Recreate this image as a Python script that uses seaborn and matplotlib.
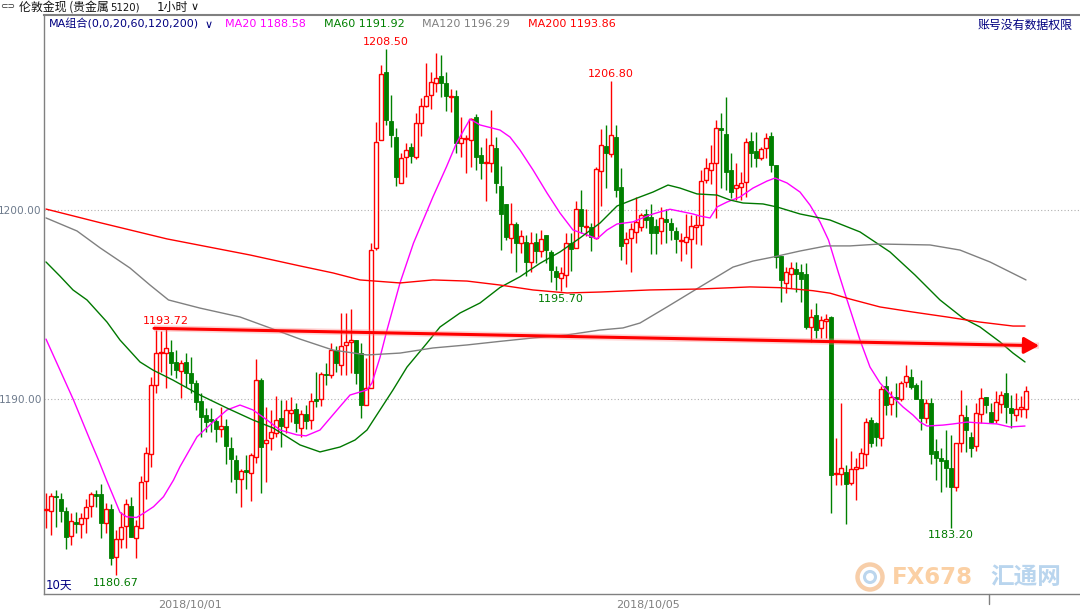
import matplotlib
matplotlib.use("Agg")
import matplotlib.pyplot as plt
import matplotlib.transforms as mtransforms
from matplotlib.patches import Circle
import numpy as np
import pandas as pd
import seaborn as sns

# ---------------- data (1-hour candles, London gold) ----------------
opens = [1184.13, 1184.09, 1184.87, 1184.69, 1184.09, 1182.75, 1183.50, 1183.40, 1183.69, 1184.34,
         1184.95, 1184.96, 1183.46, 1184.16, 1181.62, 1182.57, 1183.28, 1184.34, 1182.63, 1183.16,
         1185.68, 1187.07, 1190.74, 1192.42, 1192.45, 1192.50, 1191.98, 1191.50, 1191.98, 1191.40,
         1190.83, 1189.90, 1189.16, 1188.93, 1188.85, 1188.40, 1188.57, 1187.41, 1186.77, 1185.75,
         1186.25, 1186.10, 1186.92, 1191.01, 1187.66, 1187.92, 1188.22, 1188.98, 1188.54, 1189.28,
         1189.45, 1188.45, 1189.20, 1188.90, 1189.98, 1189.98, 1191.32, 1191.27, 1192.59, 1191.82,
         1192.84, 1193.00, 1193.12, 1192.41, 1189.68, 1190.56, 1197.97, 1203.70, 1207.32, 1204.72,
         1203.88, 1201.45, 1202.78, 1203.35, 1202.82, 1204.60, 1205.50, 1206.08, 1206.70, 1207.09,
         1206.74, 1205.96, 1206.03, 1203.53, 1203.75, 1203.70, 1204.90, 1202.90, 1202.47, 1202.50,
         1203.26, 1201.27, 1200.32, 1198.50, 1199.26, 1198.27, 1198.33, 1197.27, 1198.33, 1197.85,
         1198.68, 1197.80, 1196.79, 1196.39, 1196.56, 1198.24, 1197.97, 1200.04, 1199.12, 1199.12,
         1198.50, 1202.08, 1203.39, 1202.96, 1203.85, 1201.24, 1198.27, 1198.50, 1198.85, 1199.08,
         1199.79, 1199.65, 1199.16, 1198.90, 1199.51, 1199.33, 1198.90, 1198.38, 1198.33, 1198.45,
         1199.12, 1199.21, 1201.59, 1202.12, 1202.47, 1204.32, 1204.02, 1202.12, 1201.15, 1201.24,
         1201.50, 1203.67, 1203.14, 1202.73, 1203.26, 1203.92, 1202.38, 1197.57, 1196.16, 1196.62,
         1196.86, 1196.74, 1196.61, 1193.80, 1194.42, 1193.74, 1194.15, 1194.32, 1186.03, 1186.03,
         1186.16, 1185.54, 1186.28, 1186.33, 1187.09, 1188.89, 1188.71, 1187.92, 1190.69, 1189.74,
         1190.12, 1189.98, 1190.92, 1191.18, 1190.74, 1189.98, 1188.98, 1189.77, 1187.27, 1186.86,
         1186.77, 1186.33, 1185.33, 1187.69, 1189.03, 1187.97, 1187.51, 1189.21, 1190.12, 1189.33,
         1188.89, 1189.74, 1190.30, 1189.51, 1189.15, 1189.45, 1189.45]

highs = [1185.01, 1185.01, 1185.20, 1185.04, 1184.30, 1183.95, 1184.04, 1183.95, 1184.69, 1185.10,
         1185.20, 1185.50, 1184.48, 1184.44, 1183.07, 1184.04, 1184.69, 1184.80, 1183.60, 1185.90,
         1187.48, 1191.18, 1193.65, 1193.60, 1193.72, 1193.12, 1192.60, 1192.07, 1192.45, 1192.20,
         1191.00, 1190.30, 1189.50, 1189.50, 1188.98, 1189.60, 1188.93, 1188.00, 1187.04, 1186.28,
         1187.04, 1187.13, 1192.10, 1191.10, 1189.56, 1189.42, 1190.16, 1189.95, 1189.95, 1190.13,
         1189.80, 1189.40, 1189.68, 1190.30, 1191.45, 1191.45, 1191.90, 1192.98, 1192.80, 1194.53,
         1194.53, 1194.74, 1193.12, 1192.94, 1192.15, 1198.23, 1204.67, 1207.67, 1208.50, 1206.08,
         1204.32, 1203.00, 1203.53, 1203.56, 1205.15, 1205.91, 1207.80, 1207.32, 1208.30, 1208.20,
         1207.32, 1206.39, 1206.35, 1204.90, 1203.97, 1204.85, 1205.10, 1203.35, 1203.80, 1205.29,
         1203.88, 1202.33, 1200.32, 1200.35, 1199.38, 1198.94, 1198.68, 1198.85, 1198.77, 1198.94,
         1198.68, 1197.88, 1197.04, 1197.00, 1198.77, 1198.77, 1200.50, 1201.06, 1200.04, 1199.30,
         1202.30, 1204.27, 1204.50, 1206.80, 1204.50, 1202.20, 1198.85, 1199.30, 1200.70, 1199.86,
         1200.04, 1200.32, 1199.51, 1200.18, 1200.04, 1199.56, 1199.08, 1198.77, 1199.79, 1199.74,
         1199.74, 1202.12, 1202.73, 1203.44, 1204.76, 1205.15, 1205.99, 1203.00, 1202.47, 1202.03,
         1203.80, 1204.14, 1204.14, 1203.32, 1204.09, 1204.14, 1202.38, 1197.57, 1197.00, 1197.27,
         1197.27, 1197.14, 1197.18, 1194.74, 1195.06, 1194.39, 1194.50, 1194.39, 1187.92, 1189.77,
         1186.51, 1187.27, 1186.86, 1187.39, 1188.98, 1189.03, 1188.80, 1190.69, 1191.22, 1190.44,
         1190.86, 1190.97, 1191.80, 1191.57, 1190.83, 1191.00, 1189.98, 1190.03, 1187.87, 1187.39,
         1188.36, 1188.10, 1187.69, 1190.48, 1189.68, 1188.27, 1189.80, 1190.56, 1190.12, 1189.77,
         1190.44, 1190.44, 1191.39, 1190.21, 1190.30, 1190.16, 1190.69]

lows = [1183.16, 1182.80, 1183.24, 1183.51, 1182.04, 1182.27, 1182.90, 1182.63, 1182.90, 1183.78,
        1184.30, 1182.63, 1182.93, 1181.22, 1180.67, 1182.10, 1182.10, 1182.68, 1181.57, 1183.16,
        1184.69, 1186.42, 1190.34, 1191.45, 1190.57, 1191.27, 1191.10, 1190.04, 1190.65, 1190.34,
        1189.42, 1187.97, 1188.27, 1188.27, 1187.74, 1187.97, 1186.56, 1185.63, 1185.05, 1184.30,
        1185.22, 1184.62, 1186.63, 1185.05, 1185.63, 1187.30, 1188.00, 1187.48, 1188.19, 1188.80,
        1188.27, 1188.00, 1188.40, 1188.40, 1189.60, 1189.63, 1190.74, 1191.09, 1191.45, 1191.27,
        1191.27, 1191.36, 1190.80, 1188.97, 1189.68, 1190.56, 1197.88, 1203.70, 1204.50, 1203.35,
        1201.27, 1201.45, 1201.76, 1202.50, 1202.68, 1203.90, 1205.47, 1205.33, 1206.26, 1206.00,
        1205.24, 1205.20, 1203.00, 1202.82, 1201.94, 1202.27, 1202.12, 1201.62, 1200.50, 1202.03,
        1200.88, 1197.88, 1198.41, 1197.74, 1196.72, 1197.74, 1196.51, 1196.74, 1197.21, 1197.53,
        1197.18, 1196.21, 1195.77, 1195.70, 1195.94, 1196.79, 1197.97, 1198.77, 1198.62, 1197.85,
        1198.45, 1200.20, 1201.15, 1202.82, 1200.70, 1197.35, 1197.14, 1196.74, 1198.27, 1198.90,
        1199.03, 1197.67, 1197.67, 1198.20, 1198.24, 1198.41, 1197.71, 1197.32, 1197.67, 1196.91,
        1198.20, 1198.15, 1201.41, 1201.38, 1199.56, 1201.15, 1201.06, 1200.62, 1200.53, 1200.53,
        1200.70, 1202.29, 1202.29, 1202.64, 1202.73, 1202.03, 1196.91, 1195.15, 1195.59, 1195.86,
        1195.68, 1195.15, 1193.70, 1193.00, 1193.21, 1193.21, 1193.21, 1183.95, 1185.45, 1185.45,
        1183.39, 1185.45, 1184.66, 1186.33, 1186.45, 1187.48, 1187.51, 1187.51, 1189.15, 1189.15,
        1189.03, 1189.91, 1190.62, 1190.51, 1189.98, 1188.36, 1188.71, 1186.56, 1185.71, 1185.10,
        1185.33, 1183.20, 1185.15, 1187.21, 1187.21, 1186.91, 1187.27, 1188.71, 1189.24, 1188.71,
        1188.75, 1189.24, 1188.75, 1188.45, 1188.85, 1189.07, 1188.98]

closes = [1184.20, 1184.87, 1184.80, 1184.09, 1182.68, 1183.56, 1183.40, 1183.69, 1184.30, 1184.96,
          1184.87, 1183.42, 1184.16, 1181.57, 1182.57, 1183.25, 1184.45, 1182.72, 1183.28, 1185.63,
          1187.13, 1190.74, 1192.42, 1192.50, 1192.68, 1191.92, 1191.54, 1191.92, 1191.40, 1190.87,
          1189.86, 1189.03, 1188.80, 1188.82, 1188.40, 1188.57, 1187.52, 1186.81, 1185.75, 1186.21,
          1186.16, 1187.04, 1191.01, 1187.48, 1187.83, 1188.27, 1188.89, 1188.57, 1189.42, 1189.42,
          1188.71, 1189.20, 1188.85, 1189.90, 1189.90, 1191.32, 1191.25, 1192.59, 1191.92, 1192.80,
          1193.03, 1193.12, 1191.36, 1189.68, 1190.56, 1197.88, 1203.60, 1207.18, 1204.76, 1203.97,
          1201.73, 1202.73, 1203.17, 1202.86, 1204.60, 1205.50, 1206.03, 1206.79, 1206.97, 1206.74,
          1206.03, 1206.03, 1203.53, 1203.80, 1203.80, 1204.80, 1202.82, 1202.47, 1202.52, 1203.44,
          1201.41, 1199.79, 1198.55, 1199.26, 1198.24, 1198.63, 1197.27, 1198.27, 1197.85, 1198.45,
          1197.88, 1196.83, 1196.47, 1196.65, 1198.27, 1197.92, 1200.04, 1199.16, 1199.16, 1198.59,
          1202.15, 1203.44, 1203.00, 1203.97, 1201.06, 1198.10, 1198.45, 1198.98, 1199.38, 1199.74,
          1199.47, 1198.80, 1198.77, 1199.56, 1199.38, 1198.94, 1198.45, 1198.42, 1198.55, 1199.16,
          1199.19, 1201.55, 1202.20, 1202.50, 1204.32, 1204.23, 1202.03, 1200.97, 1201.32, 1201.41,
          1203.62, 1203.03, 1202.73, 1203.21, 1203.79, 1202.38, 1197.53, 1196.30, 1196.74, 1196.91,
          1196.62, 1196.33, 1193.79, 1194.34, 1193.67, 1194.18, 1194.22, 1185.98, 1186.07, 1186.33,
          1185.50, 1186.28, 1186.38, 1187.16, 1188.80, 1187.69, 1187.97, 1190.51, 1189.68, 1190.12,
          1189.98, 1190.86, 1191.22, 1190.62, 1189.98, 1188.98, 1189.80, 1187.09, 1186.86, 1186.74,
          1186.33, 1185.33, 1187.65, 1189.15, 1188.36, 1187.39, 1189.28, 1190.04, 1189.68, 1188.80,
          1189.86, 1190.21, 1189.56, 1189.24, 1189.45, 1189.56, 1190.44]

# moving-average lines (bar position, price)
ma20_x = [0, 5.5, 8.8, 10.5, 12.1, 13.5, 14.8, 16.1, 18.1, 19.5, 21.5, 23.5, 25.5, 26.8, 30.2, 33.4,
          36.2, 38.8, 41.4, 44.2, 46.8, 50.2, 52.0, 54.8, 58.8, 60.8, 62.8, 64.2, 65.2, 66.8, 68.2,
          70.8, 73.5, 77.4, 80.1, 82.1, 84.8, 86.8, 90.8, 92.8, 94.8, 97.4, 100.2, 102.8, 105.4,
          108.2, 110.2, 112.2, 114.2, 117.4, 120.8, 122.8, 124.8, 127.4, 129.4, 130.8, 132.8, 134.2,
          136.2, 138.8, 141.4, 144.2, 145.8, 148.2, 150.8, 152.8, 154.8, 156.5, 158.5, 160.1, 162.8,
          164.8, 166.8, 169.4, 171.4, 173.4, 174.8, 176.2, 179.4, 181.4, 184.2, 186.8, 190.2, 192.8,
          195.8]
ma20_y = [1193.17, 1189.95, 1187.83, 1186.77, 1185.71, 1184.83, 1184.00, 1183.77, 1183.73, 1183.95,
          1184.30, 1184.83, 1185.71, 1186.42, 1188.00, 1188.78, 1189.42, 1189.68, 1189.42, 1188.89,
          1188.36, 1188.10, 1188.05, 1188.36, 1189.60, 1190.21, 1190.37, 1190.48, 1190.85, 1192.20,
          1193.65, 1196.14, 1198.25, 1200.70, 1202.29, 1203.54, 1204.81, 1204.50, 1204.23, 1203.86,
          1203.17, 1202.12, 1200.90, 1199.84, 1198.94, 1198.68, 1198.47, 1198.94, 1199.26, 1199.37,
          1199.74, 1199.90, 1200.04, 1199.90, 1199.79, 1199.68, 1199.58, 1200.16, 1200.42, 1200.69,
          1201.16, 1201.53, 1201.69, 1201.43, 1200.95, 1200.26, 1199.37, 1198.41, 1196.67, 1195.33,
          1193.12, 1191.69, 1190.85, 1190.10, 1189.58, 1189.15, 1188.78, 1188.57, 1188.62, 1188.68,
          1188.78, 1188.73, 1188.68, 1188.52, 1188.57]

ma60_x = [0, 2.8, 5.4, 8.2, 12.2, 14.8, 18.8, 21.4, 25.4, 30.8, 36.2, 41.4, 45.4, 50.8, 54.8, 58.8,
          61.8, 64.2, 66.8, 69.4, 72.2, 76.2, 78.8, 82.8, 86.8, 90.8, 94.8, 98.8, 102.8, 106.8, 110.8,
          114.2, 118.2, 121.4, 124.4, 126.8, 130.2, 134.2, 136.8, 139.4, 143.4, 146.2, 150.8, 156.8,
          162.8, 168.8, 173.8, 178.8, 183.4, 186.8, 190.8, 193.4, 195.8]
ma60_y = [1197.25, 1196.50, 1195.77, 1195.24, 1194.07, 1193.12, 1191.96, 1191.53, 1191.00, 1190.21,
          1189.52, 1188.89, 1188.47, 1187.57, 1187.20, 1187.46, 1187.83, 1188.36, 1189.42, 1190.48,
          1191.69, 1192.96, 1193.81, 1194.55, 1195.08, 1195.90, 1196.47, 1197.18, 1197.78, 1198.52,
          1199.31, 1200.21, 1200.63, 1200.95, 1201.32, 1201.16, 1200.85, 1200.79, 1200.53, 1200.37,
          1200.32, 1200.16, 1199.79, 1199.47, 1198.84, 1197.78, 1196.56, 1195.24, 1194.28, 1193.81,
          1193.02, 1192.43, 1191.96]

ma120_x = [0, 6.2, 10.8, 16.8, 20.8, 24.5, 30.8, 38.8, 44.8, 50.8, 57.4, 64.2, 70.8, 77.4, 84.2, 90.8,
           97.4, 104.2, 110.8, 115.4, 118.8, 124.2, 130.8, 137.4, 141.4, 145.4, 150.8, 156.1, 160.8,
           166.8, 176.8, 182.8, 188.8, 196.0]
ma120_y = [1199.58, 1198.89, 1198.00, 1196.93, 1196.03, 1195.24, 1194.81, 1194.34, 1193.76, 1193.17,
           1192.59, 1192.33, 1192.43, 1192.70, 1192.86, 1193.05, 1193.23, 1193.39, 1193.65, 1193.76,
           1194.02, 1194.87, 1195.93, 1196.98, 1197.30, 1197.51, 1197.83, 1198.10, 1198.10, 1198.20,
           1198.15, 1197.88, 1197.25, 1196.30]

ma200_x = [0, 10.8, 24.2, 40.8, 50.8, 57.4, 62.8, 70.8, 77.4, 84.2, 90.8, 97.4, 104.2, 110.8, 120.8,
           130.8, 140.8, 146.8, 153.4, 156.8, 160.8, 166.8, 173.4, 180.2, 186.8, 193.4, 195.8]
ma200_y = [1200.05, 1199.33, 1198.47, 1197.62, 1197.04, 1196.67, 1196.30, 1196.14, 1196.30, 1196.24,
           1196.03, 1195.77, 1195.61, 1195.66, 1195.77, 1195.82, 1195.93, 1195.89, 1195.73, 1195.60,
           1195.29, 1194.87, 1194.60, 1194.34, 1194.07, 1193.86, 1193.86]

ma_names = ["MA20", "MA60", "MA120", "MA200"]
ma_last = [1188.58, 1191.92, 1196.29, 1193.86]

# trend arrow (from the 1193.72 high)
arrow_x = [21.6, 198.6]
arrow_y = [1193.74, 1192.82]

high_marks = [68, 113, 24]
low_marks = [14, 103, 181]

date_pos = [28.8, 120.4]
date_labels = ["2018/10/01", "2018/10/05"]

# ---------------- drawing ----------------
sns.set_theme(style="white")
plt.rcParams['font.family'] = ['DejaVu Sans', 'Noto Sans CJK SC']
CJK = ['Noto Sans CJK SC', 'DejaVu Sans']

W, H = 1080, 611
fig = plt.figure(figsize=(W / 100, H / 100), dpi=100)
fig.patch.set_facecolor('white')
ax = fig.add_axes([44 / W, (H - 594) / H, (W - 44) / W, (594 - 15) / H])
ax.set_facecolor('white')

RED = '#ff0000'
GREEN = '#008000'

df = pd.DataFrame({'open': opens, 'high': highs, 'low': lows, 'close': closes})
df['x'] = np.arange(len(df))
df['up'] = df['close'] >= df['open']
df['bot'] = df[['open', 'close']].min(axis=1)
df['h'] = (df['close'] - df['open']).abs()

ax.vlines(df['x'], df['low'], df['high'], colors=np.where(df['up'], RED, GREEN),
          lw=1.0, zorder=3)
up = df[df['up']]
dn = df[~df['up']]
ax.bar(up['x'], up['h'], bottom=up['bot'], width=0.68, facecolor='white',
       edgecolor=RED, linewidth=1.0, zorder=4)
ax.bar(dn['x'], dn['h'], bottom=dn['bot'], width=0.72, facecolor=GREEN,
       edgecolor=GREEN, linewidth=0.6, zorder=4)

ma_colors = ['#ff00ff', '#007800', '#808080', '#ff0000']
for xs, ys, col in [(ma20_x, ma20_y, ma_colors[0]), (ma60_x, ma60_y, ma_colors[1]),
                    (ma120_x, ma120_y, ma_colors[2]), (ma200_x, ma200_y, ma_colors[3])]:
    sns.lineplot(x=xs, y=ys, ax=ax, color=col, lw=1.0, sort=False, estimator=None,
                 legend=False, zorder=5)

# trend arrow
ax.plot(arrow_x, arrow_y, color='#ff8080', lw=4.5, alpha=0.35, zorder=6,
        solid_capstyle='butt')
ax.annotate('', xy=(arrow_x[1], arrow_y[1]), xytext=(arrow_x[0], arrow_y[0]),
            arrowprops=dict(arrowstyle='-|>,head_length=0.9,head_width=0.5',
                            color=RED, lw=2.2, shrinkA=0, shrinkB=0, mutation_scale=10),
            zorder=7)

# high / low price labels
for i in high_marks:
    ax.annotate(f"{highs[i]:.2f}", xy=(i, highs[i]), xytext=(0, 2),
                textcoords='offset points', ha='center', va='bottom',
                color=RED, fontsize=8, zorder=8)
for i in low_marks:
    ax.annotate(f"{lows[i]:.2f}", xy=(i, lows[i]), xytext=(0, -2),
                textcoords='offset points', ha='center', va='top',
                color='#007a00', fontsize=8, zorder=8)

# axes styling
ax.set_xlim(-0.4, 206.8)
ax.set_ylim(1179.683, 1210.317)
ax.set_yticks([1190, 1200])
ax.set_yticklabels([f"{v:.2f}" for v in [1190, 1200]])
ax.set_xticks(date_pos)
ax.set_xticklabels(date_labels)
ax.tick_params(axis='y', length=0, pad=1.5, labelsize=7.6, labelcolor='#6d7a8c')
ax.tick_params(axis='x', length=0, pad=4, labelsize=8, labelcolor='#808080')
ax.grid(False)
ax.yaxis.grid(True, color='#b0b0b0', linestyle=(0, (1, 2)), lw=0.8)
ax.set_axisbelow(True)
for side in ['left', 'bottom', 'top']:
    ax.spines[side].set_visible(True)
    ax.spines[side].set_color('#808080')
    ax.spines[side].set_linewidth(1.0)
ax.spines['top'].set_linewidth(1.5)
ax.spines['right'].set_visible(False)

# small separator tick under the axis
trans = mtransforms.blended_transform_factory(ax.transData, ax.transAxes)
ax.plot([188.6, 188.6], [0, -0.017], transform=trans, color='#808080', lw=1,
        clip_on=False)


def ftext(px, py, s, **kw):
    kw.setdefault('va', 'center')
    kw.setdefault('ha', 'left')
    return fig.text(px / W, 1 - py / H, s, **kw)


# title bar above the plot
ftext(0, 7, "⊂⊃", fontsize=6.5, color='#333333')
ftext(19, 7, "伦敦金现 (贵金属", fontsize=8.6, color='#111111', family=CJK)
ftext(110, 7, "5120)", fontsize=7.3, color='#111111')
ftext(157, 7, "1小时", fontsize=8.6, color='#111111', family=['DejaVu Sans', 'Noto Sans CJK SC'])
ftext(191, 7, "∨", fontsize=8, color='#111111')

# MA header inside the plot
ftext(49, 24, "MA组合(0,0,20,60,120,200)", fontsize=8, color='#000080',
      family=['DejaVu Sans', 'Noto Sans CJK SC'])
ftext(205, 25, "∨", fontsize=8, color='#000080')
ma_head_x = [225, 324, 422, 528]
ma_head_colors = ['#ff00ff', '#008000', '#808080', '#ff0000']
for name, val, hx, col in zip(ma_names, ma_last, ma_head_x, ma_head_colors):
    ftext(hx, 24, f"{name} {val:.2f}", fontsize=8, color=col)
ftext(1073, 25, "账号没有数据权限", fontsize=8.6, color='#000080', ha='right', family=CJK)

# bottom-left period label
ftext(46, 585, "10天", fontsize=8.5, color='#000080', family=['DejaVu Sans', 'Noto Sans CJK SC'])

# watermark
c1 = Circle((8.70, (H - 577) / 100), 0.125, transform=fig.dpi_scale_trans,
            facecolor='none', edgecolor='#f7c9a0', lw=3.2, alpha=0.9)
c2 = Circle((8.70, (H - 577) / 100), 0.055, transform=fig.dpi_scale_trans,
            facecolor='none', edgecolor='#b5d2ec', lw=2.2, alpha=0.9)
fig.add_artist(c1)
fig.add_artist(c2)
ftext(892, 577, "FX678", fontsize=16.5, color='#fbd0a4', weight='bold', family='DejaVu Sans')
ftext(990, 577, "汇通网", fontsize=17, color='#b9d5ee', weight='bold', family=CJK)

fig.savefig("out.png", dpi=100, facecolor='white')
